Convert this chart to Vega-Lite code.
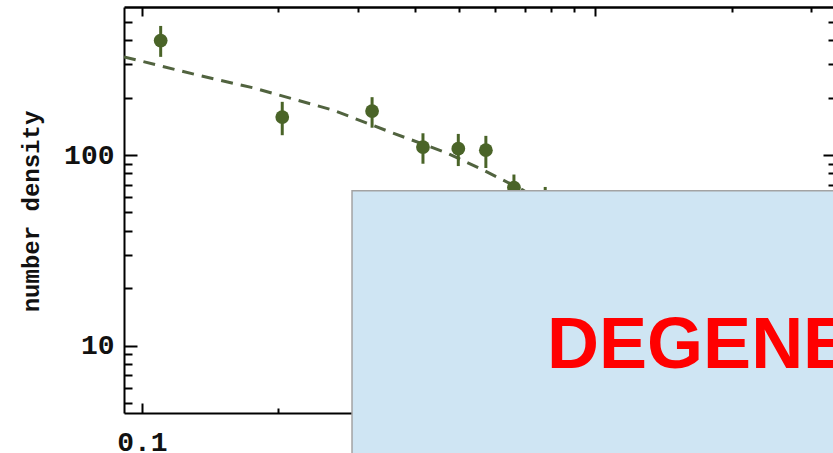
{
  "$schema": "https://vega.github.io/schema/vega-lite/v6.json",
  "autosize": "none",
  "padding": {"left": 124, "top": 7, "right": 0, "bottom": 40},
  "width": 712,
  "height": 406,
  "background": "white",
  "config": {"view": {"stroke": null}},
  "datasets": {
    "fit": [
      {"x": 0.0913, "n": 327},
      {"x": 0.134, "n": 261},
      {"x": 0.176, "n": 225},
      {"x": 0.264, "n": 172},
      {"x": 0.353, "n": 132},
      {"x": 0.471, "n": 102.5},
      {"x": 0.566, "n": 83.4},
      {"x": 0.693, "n": 65.5},
      {"x": 0.838, "n": 48.4}
    ],
    "obs": [
      {"x": 0.110, "n": 398, "lo": 327, "hi": 475},
      {"x": 0.204, "n": 158, "lo": 127, "hi": 190},
      {"x": 0.322, "n": 170, "lo": 139, "hi": 201},
      {"x": 0.417, "n": 110, "lo": 90, "hi": 130},
      {"x": 0.499, "n": 108, "lo": 87.5, "hi": 129},
      {"x": 0.574, "n": 106, "lo": 85.5, "hi": 126},
      {"x": 0.662, "n": 67.5, "lo": 55, "hi": 79},
      {"x": 0.776, "n": 55, "lo": 45, "hi": 68}
    ],
    "panel": [
      {"x0": 0.2908, "x1": 20, "y0": 64.95, "y1": 1}
    ],
    "note": [
      {"x": 0.7834, "n": 7.64, "label": "DEGENERATE"}
    ]
  },
  "resolve": {"axis": {"x": "independent", "y": "independent"}},
  "layer": [
    {
      "data": {"name": "fit"},
      "mark": {"type": "line", "color": "#51633f", "strokeWidth": 3, "strokeDash": [12, 8], "clip": true},
      "encoding": {
        "x": {
          "field": "x", "type": "quantitative",
          "scale": {"type": "log", "domain": [0.0913, 3.4], "nice": false, "zero": false},
          "axis": {
            "orient": "bottom", "zindex": 0, "grid": false,
            "values": [0.1, 0.2, 0.3, 0.4, 0.5, 0.6, 0.7, 0.8, 0.9, 1, 2, 3],
            "domainColor": "#000", "domainWidth": 2,
            "tickColor": "#000", "tickWidth": 2,
            "tickSize": {"condition": {"test": "abs(log(datum.value)/LN10 - round(log(datum.value)/LN10)) < 0.001", "value": -10}, "value": -5},
            "labelExpr": "abs(log(datum.value)/LN10 - round(log(datum.value)/LN10)) < 0.001 ? format(datum.value, '~g') : ''",
            "labelFont": "Liberation Mono", "labelFontSize": 28, "labelFontWeight": "bold", "labelColor": "#111",
            "labelPadding": 25, "labelFlush": false, "labelOverlap": false,
            "title": null
          }
        },
        "y": {
          "field": "n", "type": "quantitative",
          "scale": {"type": "log", "domain": [4.44, 597], "nice": false, "zero": false},
          "axis": {
            "orient": "left", "zindex": 0, "grid": false,
            "values": [5, 6, 7, 8, 9, 10, 20, 30, 40, 50, 60, 70, 80, 90, 100, 200, 300, 400, 500],
            "domainColor": "#000", "domainWidth": 2,
            "tickColor": "#000", "tickWidth": 2,
            "tickSize": {"condition": {"test": "abs(log(datum.value)/LN10 - round(log(datum.value)/LN10)) < 0.001", "value": -13}, "value": -8},
            "labelExpr": "abs(log(datum.value)/LN10 - round(log(datum.value)/LN10)) < 0.001 ? format(datum.value, '~g') : ''",
            "labelFont": "Liberation Mono", "labelFontSize": 28, "labelFontWeight": "bold", "labelColor": "#111",
            "labelPadding": 23, "labelFlush": false, "labelOverlap": false, "labelBaseline": "middle",
            "title": "number density",
            "titleFont": "Liberation Mono", "titleFontSize": 24, "titleFontWeight": "bold", "titleColor": "#111",
            "titleAngle": 270, "titleBaseline": "bottom", "titleAlign": "center",
            "titleX": -81, "titleY": 204
          }
        }
      }
    },
    {
      "data": {"name": "obs"},
      "mark": {"type": "rule", "color": "#4a6428", "strokeWidth": 3},
      "encoding": {
        "x": {
          "field": "x", "type": "quantitative",
          "axis": {
            "orient": "top", "zindex": 0, "grid": false,
            "values": [0.1, 0.2, 0.3, 0.4, 0.5, 0.6, 0.7, 0.8, 0.9, 1, 2, 3],
            "domainColor": "#000", "domainWidth": 2.5,
            "tickColor": "#000", "tickWidth": 2,
            "tickSize": {"condition": {"test": "abs(log(datum.value)/LN10 - round(log(datum.value)/LN10)) < 0.001", "value": -9}, "value": -5},
            "labels": false, "title": null
          }
        },
        "y": {
          "field": "lo", "type": "quantitative",
          "axis": {
            "orient": "right", "zindex": 0, "grid": false,
            "values": [5, 6, 7, 8, 9, 10, 20, 30, 40, 50, 60, 70, 80, 90, 100, 200, 300, 400, 500],
            "domainColor": "#000", "domainWidth": 2,
            "tickColor": "#000", "tickWidth": 2,
            "tickSize": {"condition": {"test": "abs(log(datum.value)/LN10 - round(log(datum.value)/LN10)) < 0.001", "value": -13}, "value": -8},
            "labels": false, "title": null
          }
        },
        "y2": {"field": "hi"}
      }
    },
    {
      "data": {"name": "obs"},
      "mark": {"type": "point", "shape": "circle", "filled": true, "color": "#4a6428", "opacity": 1, "size": 190},
      "encoding": {
        "x": {"field": "x", "type": "quantitative", "axis": null},
        "y": {"field": "n", "type": "quantitative", "axis": null}
      }
    },
    {
      "data": {"name": "panel"},
      "mark": {"type": "rect", "fill": "#cfe5f3", "stroke": "#a3a3a3", "strokeWidth": 1.5, "clip": false, "zindex": 2},
      "encoding": {
        "x": {"field": "x0", "type": "quantitative", "axis": null},
        "x2": {"field": "x1"},
        "y": {"field": "y0", "type": "quantitative", "axis": null},
        "y2": {"field": "y1"}
      }
    },
    {
      "data": {"name": "note"},
      "mark": {"type": "text", "font": "Liberation Sans", "fontSize": 72, "fontWeight": "bold", "color": "#ff0000", "align": "left", "baseline": "alphabetic", "clip": false, "zindex": 3},
      "encoding": {
        "x": {"field": "x", "type": "quantitative", "axis": null},
        "y": {"field": "n", "type": "quantitative", "axis": null},
        "text": {"field": "label"}
      }
    }
  ]
}
